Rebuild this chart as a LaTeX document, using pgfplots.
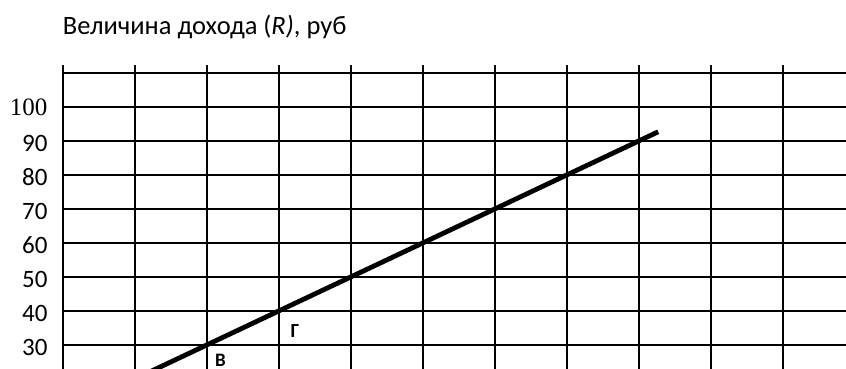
\documentclass[border=0pt]{standalone}
\usepackage{fontspec}
\setmainfont{Carlito}
\newfontfamily\tms{Liberation Serif}
\usepackage{pgfplots}
\pgfplotsset{compat=1.18}

\begin{document}
\begin{tikzpicture}
  \begin{axis}[
      name=ax,
      x=72bp, y=3.4bp,
      xmin=0, xmax=10.879,
      ymin=22.94, ymax=112.35,
      axis line style={draw=none},
      xtick={0,1,...,10}, xticklabels={},
      ytick={30,40,...,110},
      yticklabels={30,40,50,60,70,80,90,{\tms\raisebox{3bp}{100}},{}},
      major tick length=0pt,
      grid=major,
      grid style={black, line width=1.8bp},
      yticklabel style={anchor=east, inner sep=0pt, xshift=-15bp, yshift=-2bp,
        font=\fontsize{25bp}{30bp}\selectfont},
      clip=true,
    ]
    \addplot[black, line width=4.8bp] coordinates {(1,20) (8.27,92.7)};
  \end{axis}
  \node[anchor=base west, inner sep=0pt, font=\fontsize{26.5bp}{31bp}\selectfont]
    at ([yshift=30bp]ax.north west) {Величина дохода (\textit{R)}, руб};
  \node[inner sep=0pt, font=\bfseries\fontsize{20bp}{24bp}\selectfont]
    at ([xshift=232.3bp, yshift=37.5bp]ax.south west) {Г};
  \node[anchor=north west, inner sep=0pt, font=\bfseries\fontsize{19bp}{23bp}\selectfont]
    at ([xshift=152.3bp, yshift=15bp]ax.south west) {В};
  \pgfresetboundingbox
  \useasboundingbox ([xshift=-62.7bp]ax.south west) rectangle ++(846bp,369bp);
\end{tikzpicture}
\end{document}
